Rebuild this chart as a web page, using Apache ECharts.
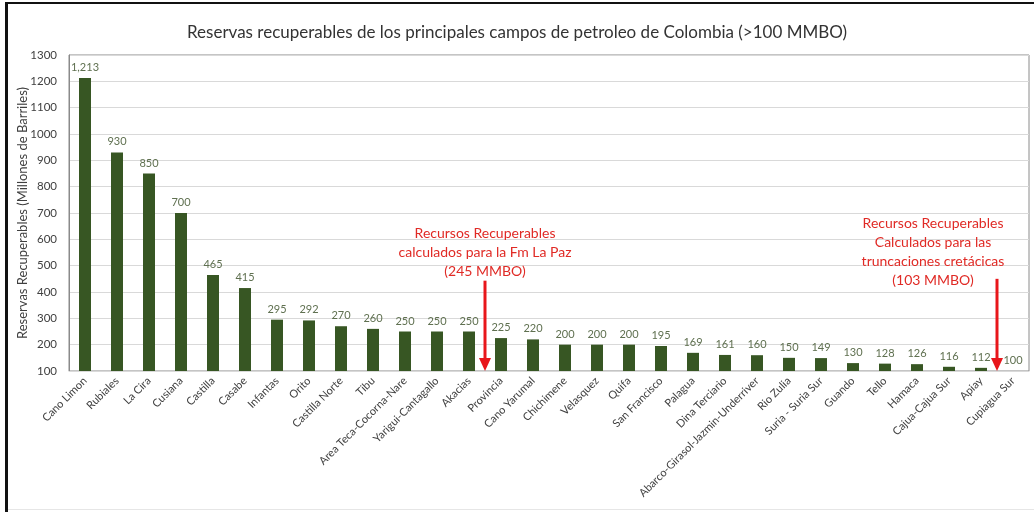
<!DOCTYPE html>
<html>
<head>
<meta charset="utf-8">
<script src="https://cdn.jsdelivr.net/npm/echarts@6/dist/echarts.min.js"></script>
<style>
html,body{margin:0;padding:0;background:#fff;}
#chart{width:1034px;height:512px;}
</style>
</head>
<body>
<div id="chart"></div>
<script>
var categories = ['Cano Limon','Rubiales','La Cira','Cusiana','Castilla','Casabe','Infantas','Orito','Castilla Norte','Tibu','Area Teca-Cocorna-Nare','Yarigui-Cantagallo','Akacias','Provincia','Cano Yarumal','Chichimene','Velasquez','Quifa','San Francisco','Palagua','Dina Terciario','Abarco-Girasol-Jazmin-Underriver','Rio Zulia','Suria - Suria Sur','Guando','Tello','Hamaca','Cajua-Cajua Sur','Apiay','Cupiagua Sur'];
var reserves = [1213,930,850,700,465,415,295,292,270,260,250,250,250,225,220,200,200,200,195,169,161,160,150,149,130,128,126,116,112,100];
var yTicks = {min:100, max:1300, interval:100};
// annotations: arrow placed between category index and the next one
var arrowAfterIndex = [12, 28];
var arrowTopValue = [443, 450];
var annotTopValue = [660, 698];
var annotTexts = [
  'Recursos Recuperables\ncalculados para la Fm La Paz\n(245 MMBO)',
  'Recursos Recuperables\nCalculados para las\ntruncaciones cretácicas\n(103 MMBO)'
];

var chart = echarts.init(document.getElementById('chart'));
var font = 'Lato, "Open Sans", sans-serif';
var annotData = arrowAfterIndex.map(function(v,i){ return [v, arrowTopValue[i], annotTopValue[i]]; });

chart.setOption({
  animation:false,
  backgroundColor:'#fff',
  title:{
    text:'Reservas recuperables de los principales campos de petroleo de Colombia (>100 MMBO)',
    left:'center', top:19,
    textStyle:{fontFamily:font, fontSize:17, fontWeight:'normal', color:'#333'}
  },
  grid:{left:69, right:5, top:55, bottom:141, show:true, borderColor:'#8a8a8a', borderWidth:1},
  xAxis:{
    type:'category', data:categories,
    axisTick:{show:false},
    axisLine:{lineStyle:{color:'#d9d9d9'}},
    axisLabel:{interval:0, rotate:45, fontSize:11, fontFamily:font, color:'#404040', margin:8}
  },
  yAxis:{
    type:'value', min:yTicks.min, max:yTicks.max, interval:yTicks.interval,
    name:'Reservas Recuperables (Millones de Barriles)',
    nameLocation:'middle', nameGap:40, nameMoveOverlap:false,
    nameTextStyle:{fontSize:13, fontFamily:font, color:'#404040'},
    axisLine:{show:true, lineStyle:{color:'#8a8a8a'}},
    axisTick:{show:false},
    splitLine:{lineStyle:{color:'#d9d9d9'}},
    axisLabel:{fontSize:11.5, fontFamily:font, color:'#404040', margin:12,
      formatter:function(v){ return String(v); }}
  },
  series:[
    {
      type:'bar', data:reserves, barWidth:12,
      itemStyle:{color:'#375623'},
      label:{show:true, position:'top', distance:5, fontSize:11, fontFamily:font, color:'#5f7050',
        formatter:function(p){ return p.value.toLocaleString('en-US'); }}
    },
    {
      type:'custom', data:annotData, z:10,
      renderItem:function(params, api){
        var idx = api.value(0);
        var a = api.coord([idx, api.value(1)]);
        var b = api.coord([idx+1, yTicks.min]);
        var t = api.coord([idx, api.value(2)]);
        var x = (a[0]+b[0])/2;
        var y0 = a[1], y1 = b[1];
        return {
          type:'group',
          children:[
            {type:'line', shape:{x1:x, y1:y0, x2:x, y2:y1-10}, style:{stroke:'#e8161b', lineWidth:3}},
            {type:'polygon', shape:{points:[[x-6,y1-13],[x+6,y1-13],[x,y1]]}, style:{fill:'#e8161b'}},
            {type:'text', style:{text:annotTexts[params.dataIndex], x:x - (params.dataIndex===1 ? 64 : 0), y:t[1],
              align:'center', verticalAlign:'top', fill:'#e02a25', fontSize:14, fontFamily:font, lineHeight:19}}
          ]
        };
      }
    }
  ],
  graphic:[
    {type:'rect', shape:{x:5, y:2, width:3, height:510}, style:{fill:'#111'}},
    {type:'rect', shape:{x:5, y:2, width:1029, height:2}, style:{fill:'#111'}},
    {type:'rect', shape:{x:8, y:509, width:1026, height:1}, style:{fill:'#e6e6e6'}}
  ]
});
</script>
</body>
</html>
